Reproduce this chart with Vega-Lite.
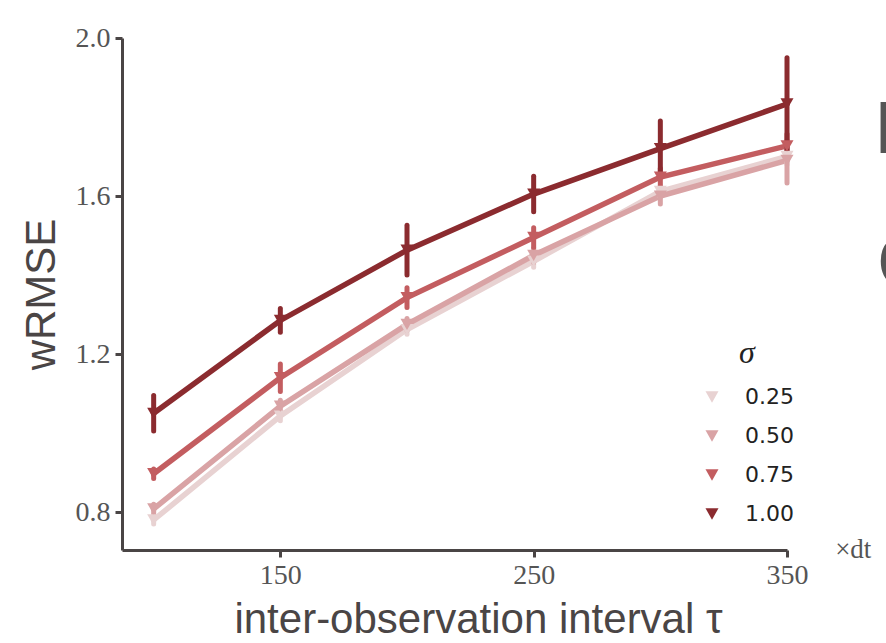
{
  "$schema": "https://vega.github.io/schema/vega-lite/v6.json",
  "width": 665,
  "height": 512,
  "autosize": "none",
  "padding": {"left": 122, "top": 38, "right": 99, "bottom": 93},
  "background": "white",
  "config": {
    "view": {"stroke": null},
    "axis": {
      "grid": false,
      "domainColor": "#4a4545",
      "domainWidth": 3,
      "tickColor": "#4a4545",
      "tickWidth": 3,
      "tickSize": 7,
      "labelFont": "Liberation Serif",
      "labelFontSize": 28,
      "labelColor": "#555555",
      "titleFont": "Liberation Sans",
      "titleFontSize": 42,
      "titleFontWeight": "normal",
      "titleColor": "#4a4545"
    }
  },
  "data": {
    "values": [
      {"tau": 100, "sigma": "0.25", "wrmse": 0.780, "lo": 0.770, "hi": 0.790},
      {"tau": 150, "sigma": "0.25", "wrmse": 1.043, "lo": 1.031, "hi": 1.055},
      {"tau": 200, "sigma": "0.25", "wrmse": 1.262, "lo": 1.250, "hi": 1.274},
      {"tau": 250, "sigma": "0.25", "wrmse": 1.435, "lo": 1.420, "hi": 1.450},
      {"tau": 300, "sigma": "0.25", "wrmse": 1.612, "lo": 1.597, "hi": 1.627},
      {"tau": 350, "sigma": "0.25", "wrmse": 1.700, "lo": 1.680, "hi": 1.720},
      {"tau": 100, "sigma": "0.50", "wrmse": 0.808, "lo": 0.796, "hi": 0.820},
      {"tau": 150, "sigma": "0.50", "wrmse": 1.068, "lo": 1.053, "hi": 1.083},
      {"tau": 200, "sigma": "0.50", "wrmse": 1.275, "lo": 1.260, "hi": 1.290},
      {"tau": 250, "sigma": "0.50", "wrmse": 1.450, "lo": 1.432, "hi": 1.468},
      {"tau": 300, "sigma": "0.50", "wrmse": 1.600, "lo": 1.580, "hi": 1.620},
      {"tau": 350, "sigma": "0.50", "wrmse": 1.690, "lo": 1.633, "hi": 1.742},
      {"tau": 100, "sigma": "0.75", "wrmse": 0.897, "lo": 0.885, "hi": 0.909},
      {"tau": 150, "sigma": "0.75", "wrmse": 1.140, "lo": 1.105, "hi": 1.175},
      {"tau": 200, "sigma": "0.75", "wrmse": 1.343, "lo": 1.318, "hi": 1.368},
      {"tau": 250, "sigma": "0.75", "wrmse": 1.495, "lo": 1.470, "hi": 1.520},
      {"tau": 300, "sigma": "0.75", "wrmse": 1.648, "lo": 1.626, "hi": 1.670},
      {"tau": 350, "sigma": "0.75", "wrmse": 1.727, "lo": 1.697, "hi": 1.757},
      {"tau": 100, "sigma": "1.00", "wrmse": 1.050, "lo": 1.005, "hi": 1.095},
      {"tau": 150, "sigma": "1.00", "wrmse": 1.285, "lo": 1.255, "hi": 1.315},
      {"tau": 200, "sigma": "1.00", "wrmse": 1.463, "lo": 1.400, "hi": 1.526},
      {"tau": 250, "sigma": "1.00", "wrmse": 1.605, "lo": 1.560, "hi": 1.650},
      {"tau": 300, "sigma": "1.00", "wrmse": 1.720, "lo": 1.650, "hi": 1.790},
      {"tau": 350, "sigma": "1.00", "wrmse": 1.833, "lo": 1.716, "hi": 1.950}
    ]
  },
  "layer": [
    {
      "layer": [
        {
          "mark": {"type": "line", "strokeWidth": 5.5, "strokeCap": "round"},
          "encoding": {
            "y": {
              "field": "wrmse",
              "type": "quantitative",
              "scale": {"domain": [0.704, 2.0], "nice": false, "zero": false},
              "axis": {"values": [0.8, 1.2, 1.6, 2.0], "format": ".1f", "title": "wRMSE", "titlePadding": 12, "labelPadding": 5}
            }
          }
        },
        {
          "mark": {"type": "rule", "strokeWidth": 5, "strokeCap": "round"},
          "encoding": {
            "y": {"field": "lo", "type": "quantitative"},
            "y2": {"field": "hi"}
          }
        },
        {
          "mark": {"type": "point", "shape": "triangle-down", "filled": true, "size": 170, "opacity": 1},
          "encoding": {
            "y": {"field": "wrmse", "type": "quantitative"}
          }
        }
      ],
      "encoding": {
        "x": {
          "field": "tau",
          "type": "quantitative",
          "scale": {"domain": [87.5, 350], "nice": false, "zero": false},
          "axis": {"values": [150, 250, 350], "title": "inter-observation interval τ", "titlePadding": 10, "titleX": 356, "titleAlign": "center", "labelPadding": 4, "labelFlush": false}
        },
        "color": {
          "field": "sigma",
          "type": "nominal",
          "scale": {"domain": ["0.25", "0.50", "0.75", "1.00"], "range": ["#e8d2d2", "#d9a3a5", "#c35d60", "#8b2b2f"]},
          "legend": {
            "title": "σ",
            "orient": "none",
            "legendX": 579,
            "legendY": 300,
            "symbolType": "triangle-down",
            "symbolSize": 170,
            "symbolStrokeWidth": 0,
            "symbolOpacity": 1,
            "encode": {"symbols": {"update": {"fill": {"scale": "color", "field": "value"}, "opacity": {"value": 1}}}},
            "labelFont": "DejaVu Sans",
            "labelFontSize": 22,
            "labelColor": "#222222",
            "labelOffset": 22,
            "rowPadding": 17,
            "titleFont": "Liberation Serif",
            "titleFontStyle": "italic",
            "titleFontSize": 32,
            "titleFontWeight": "normal",
            "titleColor": "#222222",
            "titlePadding": 16,
            "titleAnchor": "middle"
          }
        }
      }
    },
    {
      "data": {"values": [{"label": "×dt", "x": 369, "y": 0.704}, {"label": "E", "x": 384.5, "y": 1.765}, {"label": "C", "x": 385.5, "y": 1.425}]},
      "layer": [
        {
          "transform": [{"filter": "datum.label == '×dt'"}],
          "mark": {"type": "text", "font": "Liberation Serif", "fontSize": 27, "fill": "#555555", "align": "left", "baseline": "middle", "clip": false},
          "encoding": {
            "x": {"field": "x", "type": "quantitative"},
            "y": {"field": "y", "type": "quantitative"},
            "text": {"field": "label"}
          }
        },
        {
          "transform": [{"filter": "datum.label != '×dt'"}],
          "mark": {"type": "text", "font": "Liberation Sans", "fontSize": 74, "fill": "#555555", "align": "left", "baseline": "middle", "clip": false},
          "encoding": {
            "x": {"field": "x", "type": "quantitative"},
            "y": {"field": "y", "type": "quantitative"},
            "text": {"field": "label"}
          }
        }
      ]
    }
  ]
}
